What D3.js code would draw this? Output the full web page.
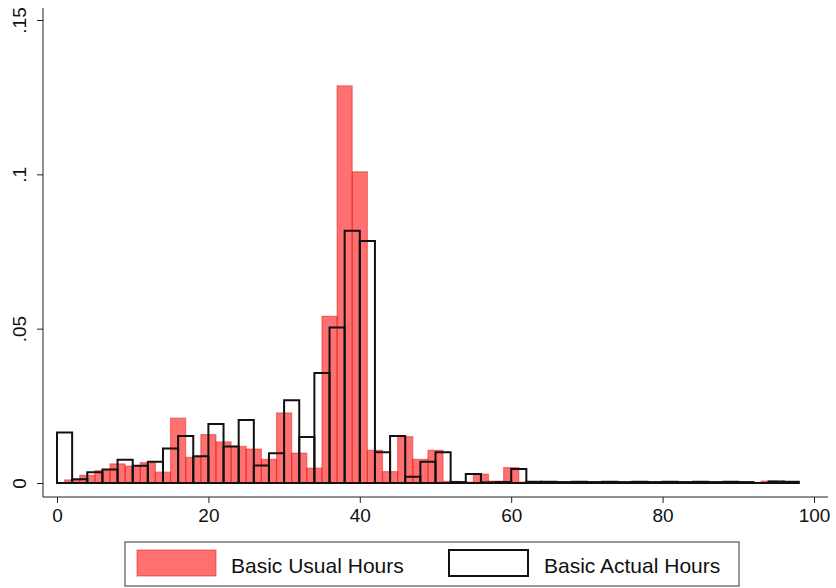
<!DOCTYPE html>
<html>
<head>
<meta charset="utf-8">
<script src="https://cdn.jsdelivr.net/npm/d3@7"></script>
<style>
  body { margin: 0; background: #fff; }
  svg text { font-family: "Liberation Sans", Arial, sans-serif; fill: #111; }
</style>
</head>
<body>
<svg width="836" height="588"></svg>
<script>
// data: density per 2-hour bin
var binWidth = 2;
var usualStart = 1;   // red bins start at 1
var actualStart = 0;  // black bins start at 0

var usualHours = [
  .001, .0025, .004, .0062, .0055, .0066, .0035, .021, .0083, .0157,
  .0133, .0119, .011, .0077, .0227, .0097, .0048, .054, .1287, .1008,
  .0106, .0037, .015, .0077, .0106, .0005, .0003, .0029, .0006, .005,
  .0003, .0004, .0002, .0003, .0004, .0002, .0002, .0001, .0002, .0002,
  .0002, .0003, .0002, .0001, .0001, 0, .0006, .0002
];

var actualHours = [
  .0164, .0012, .0035, .0044, .0075, .0056, .0069, .0112, .0152, .0087,
  .0191, .0118, .0204, .0057, .0096, .0268, .0149, .0356, .0504, .0817,
  .0784, .01, .0152, .002, .0069, .01, .0003, .0029, .0002, .0003,
  .0045, .0004, .0004, .0003, .0004, .0003, .0004, .0003, .0004, .0003,
  .0004, .0003, .0004, .0003, .0004, .0003, 0, .0005, .0004
];

var xTicks = [0, 20, 40, 60, 80, 100];
var yTicks = [0, .05, .1, .15];
var yTickLabels = ["0", ".05", ".1", ".15"];
var legendLabels = ["Basic Usual Hours", "Basic Actual Hours"];

//layout conf.
var axisY = 497, axisX = 43;
var x = d3.scaleLinear().domain([0, 100]).range([57, 814]);
var y = d3.scaleLinear().domain([0, .15]).range([483, 20]);

var svg = d3.select("svg");

function barPath(start, v, i) {
  var x0 = x(start + i*binWidth), x1 = x(start + (i+1)*binWidth);
  var y0 = y(0), y1 = y(v);
  return "M"+[x0,y0]+"V"+y1+"H"+x1+"V"+y0+"Z";
}

// red translucent bars
svg.append("g").selectAll("path")
  .data(usualHours)
  .enter().append("path")
  .attr("d", function(d, i){ return barPath(usualStart, d, i); })
  .attr("fill", "rgba(255,0,0,0.56)")
  .attr("stroke", "rgba(225,20,20,0.45)")
  .attr("stroke-width", 1.2);

// black outline bars on top
svg.append("g").selectAll("path")
  .data(actualHours)
  .enter().append("path")
  .attr("d", function(d, i){ return barPath(actualStart, d, i); })
  .attr("fill", "none")
  .attr("stroke", "#111")
  .attr("stroke-width", 2);

// y axis
var yAxis = svg.append("g")
  .attr("transform", "translate("+axisX+",0)")
  .call(d3.axisLeft(y).tickValues(yTicks).tickSize(6)
    .tickFormat(function(d, i){ return yTickLabels[i]; }));
yAxis.select(".domain").remove();
yAxis.selectAll(".tick text")
  .attr("x", 0).attr("y", 0).attr("dy", "0.35em")
  .attr("transform", "translate(-24,0) rotate(-90)")
  .style("text-anchor", "middle")
  .style("font-size", "19px");
yAxis.append("line")
  .attr("x1", 0).attr("x2", 0).attr("y1", 8).attr("y2", axisY)
  .attr("stroke", "#222");

// x axis
var xAxis = svg.append("g")
  .attr("transform", "translate(0,"+axisY+")")
  .call(d3.axisBottom(x).tickValues(xTicks).tickSize(6).tickPadding(6));
xAxis.select(".domain").remove();
xAxis.selectAll("text").style("font-size", "19px");
xAxis.append("line")
  .attr("x1", axisX).attr("x2", 828).attr("y1", 0).attr("y2", 0)
  .attr("stroke", "#222");
svg.selectAll(".tick line").attr("stroke", "#222");

// legend
var legend = svg.append("g");
legend.append("rect")
  .attr("x", 125).attr("y", 542).attr("width", 614).attr("height", 44)
  .attr("fill", "#fff").attr("stroke", "#777").attr("stroke-width", 1.5);
legend.append("rect")
  .attr("x", 137).attr("y", 550).attr("width", 79).attr("height", 26)
  .attr("fill", "rgba(255,0,0,0.56)").attr("stroke", "rgba(225,20,20,0.45)").attr("stroke-width", 1.2);
legend.append("rect")
  .attr("x", 449).attr("y", 550).attr("width", 79).attr("height", 26)
  .attr("fill", "none").attr("stroke", "#111").attr("stroke-width", 2);
legend.append("text").attr("x", 231).attr("y", 573).style("font-size", "21px").text(legendLabels[0]);
legend.append("text").attr("x", 544).attr("y", 573).style("font-size", "21px").text(legendLabels[1]);
</script>
</body>
</html>
